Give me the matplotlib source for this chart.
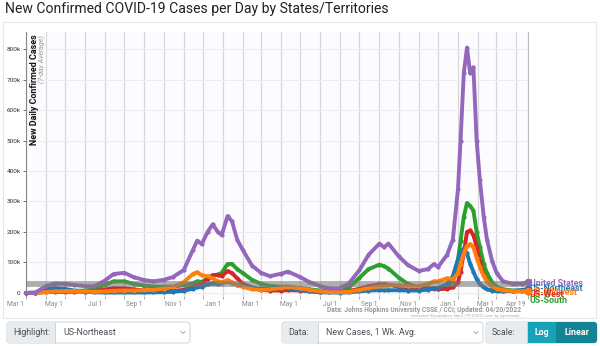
import numpy as np
import pandas as pd
import matplotlib
matplotlib.use("Agg")
import matplotlib.pyplot as plt
import matplotlib.dates as mdates
import matplotlib.transforms as mtransforms
from matplotlib.patches import Rectangle, FancyBboxPatch

plt.rcParams.update({
    "font.family": ["Roboto", "DejaVu Sans"],
    "figure.dpi": 100,
})

# ---- data (7-day average of new cases, thousands) ----
dates = [
    "2020-03-01", "2020-03-15", "2020-04-01", "2020-04-15", "2020-05-01", "2020-05-15",
    "2020-06-01", "2020-06-15", "2020-07-01", "2020-07-15", "2020-08-01", "2020-08-15",
    "2020-09-01", "2020-09-15", "2020-10-01", "2020-10-15", "2020-11-01", "2020-11-15",
    "2020-11-22", "2020-11-29", "2020-12-08", "2020-12-16", "2020-12-24", "2020-12-30",
    "2021-01-08", "2021-01-15", "2021-01-23", "2021-02-01", "2021-02-15", "2021-03-01",
    "2021-03-15", "2021-04-01", "2021-04-12", "2021-05-01", "2021-05-15", "2021-06-01",
    "2021-06-15", "2021-07-01", "2021-07-15", "2021-08-01", "2021-08-15", "2021-09-01",
    "2021-09-08", "2021-09-15", "2021-10-01", "2021-10-15", "2021-11-01", "2021-11-15",
    "2021-11-25", "2021-12-01", "2021-12-15", "2021-12-24", "2022-01-01", "2022-01-05",
    "2022-01-10", "2022-01-15", "2022-01-20", "2022-01-25", "2022-01-30", "2022-02-04",
    "2022-02-10", "2022-02-15", "2022-02-23", "2022-03-02", "2022-03-12", "2022-03-27",
    "2022-04-10", "2022-04-19",
]

united_states = [
    0, 1, 22, 31, 30, 26, 22, 22, 40, 62, 66, 52,
    42, 38, 43, 52, 75, 140, 172, 160, 200, 225, 200, 190,
    252, 235, 175, 140, 90, 66, 55, 63, 70, 52, 36, 22,
    15, 15, 30, 75, 125, 162, 150, 162, 120, 92, 72, 78,
    95, 85, 125, 175, 340, 500, 720, 805, 720, 740, 500, 370,
    250, 175, 105, 66, 38, 30, 30, 35,
]
us_northeast = [
    0, 0.5, 12, 16, 13, 8, 4, 2, 1.5, 1.5, 1.5, 1.5,
    1.5, 2, 2.5, 4, 7, 14, 19, 20, 28, 32, 30, 32,
    38, 33, 27, 22, 16, 14, 14, 16, 15, 9, 5, 2,
    1.5, 1, 2, 5, 8, 9, 9, 9, 9, 8, 8, 11,
    15, 16, 30, 55, 110, 135, 145, 130, 95, 70, 45, 30,
    18, 12, 8, 6, 5, 7, 10, 12,
]
us_south = [
    0, 0.3, 5, 7, 7, 7, 8, 12, 26, 38, 38, 30,
    24, 21, 20, 21, 25, 32, 38, 36, 48, 58, 60, 66,
    95, 95, 78, 65, 43, 30, 23, 20, 21, 16, 12, 8,
    6, 7, 17, 50, 78, 93, 88, 80, 50, 30, 18, 15,
    14, 14, 18, 40, 110, 170, 250, 295, 285, 270, 200, 150,
    95, 65, 35, 20, 12, 8, 7, 8,
]
us_west = [
    0, 0.3, 3, 3.5, 3.5, 4, 4.5, 6, 11, 16, 15, 12,
    8, 6, 6, 7, 10, 19, 27, 30, 45, 58, 60, 55,
    72, 65, 48, 30, 18, 10, 8, 8, 9, 8, 6, 4,
    3, 3, 6, 14, 22, 28, 28, 27, 20, 15, 12, 14,
    15, 12, 14, 18, 35, 70, 130, 200, 205, 190, 150, 100,
    60, 40, 20, 12, 7, 5, 6, 7,
]
us_midwest = [
    0, 0.3, 3, 5, 6, 6, 5, 4, 5, 7, 8, 8,
    9, 10, 14, 20, 35, 62, 68, 58, 55, 48, 38, 35,
    42, 35, 26, 20, 12, 10, 12, 16, 20, 15, 10, 5,
    3, 2.5, 4, 10, 16, 22, 22, 25, 25, 22, 22, 30,
    38, 38, 48, 45, 65, 95, 130, 155, 160, 150, 115, 85,
    55, 38, 22, 14, 9, 6, 5, 6,
]

series_names = ["US-South", "US-West", "US-Northeast", "US-Midwest", "United States"]
series_values = [us_south, us_west, us_northeast, us_midwest, united_states]
series_colors = ["#2ca02c", "#d62728", "#1f77b4", "#ff7f0e", "#9467bd"]

tick_labels = ["Mar 1", "May 1", "Jul 1", "Sep 1", "Nov 1", "Jan 1", "Mar 1",
               "May 1", "Jul 1", "Sep 1", "Nov 1", "Jan 1", "Mar 1", "Apr 19"]
tick_dates = ["2020-03-01", "2020-05-01", "2020-07-01", "2020-09-01", "2020-11-01",
              "2021-01-01", "2021-03-01", "2021-05-01", "2021-07-01", "2021-09-01",
              "2021-11-01", "2022-01-01", "2022-03-01", "2022-04-19"]

W, H = 600, 346
fig = plt.figure(figsize=(W / 100, H / 100), dpi=100)
fig.patch.set_facecolor("white")

# pixel-coordinate overlay for title / controls
ui = fig.add_axes([0, 0, 1, 1], zorder=-1)
ui.set_xlim(0, W)
ui.set_ylim(H, 0)
ui.axis("off")

# plot axes: left x=26, right x=527.5, top y=32, bottom y=296
ax = fig.add_axes([26 / W, 1 - 296 / H, (527.5 - 26) / W, (296 - 32) / H])
ax.set_facecolor("#fcfcfe")

x = pd.to_datetime(dates)
for name, vals, col, z in zip(series_names, series_values, series_colors, range(3, 8)):
    v = np.array(vals) * 1000
    ax.plot(x, v, color=col, lw=2.8, zorder=z, solid_joinstyle="round",
            marker="o", ms=2.0, mec=col, clip_on=False)
    ax.plot(x[-1], v[-1], "o", color=col, ms=4.5, zorder=z + 0.5, clip_on=False)

ax.axhline(31000, color="#7a7a7a", lw=4.2, alpha=0.6, zorder=9)

ax.set_xlim(pd.Timestamp("2020-03-01"), pd.Timestamp("2022-04-19"))
ax.set_ylim(-10000, 856000)

ax.set_yticks(np.arange(0, 800001, 100000))
ax.set_yticklabels(["0"] + [f"{i}00k" for i in range(1, 9)])
ax.set_xticks(pd.to_datetime(tick_dates))
ax.set_xticklabels(tick_labels)
ax.xaxis.set_minor_locator(mdates.MonthLocator())
ax.tick_params(axis="y", labelsize=4.6, length=2.5, width=0.6, color="#555",
               labelcolor="#333", pad=1.5)
ax.tick_params(axis="x", which="both", labelsize=4.8, length=2.5, width=0.6,
               color="#999", labelcolor="#888", pad=1)
offset = mtransforms.ScaledTranslation(-2 / 100, 0, fig.dpi_scale_trans)
for lab in ax.get_xticklabels():
    lab.set_horizontalalignment("right")
    lab.set_transform(lab.get_transform() + offset)

ax.grid(True, axis="y", color="#ececf3", lw=0.7)
ax.grid(True, axis="x", which="both", color="#d8d8dc", lw=0.9)
ax.set_axisbelow(True)
for side in ["top", "bottom"]:
    ax.spines[side].set_visible(False)
ax.spines["left"].set_color("#888")
ax.spines["left"].set_linewidth(0.8)
ax.spines["right"].set_color("#bbb")

# inner y-axis title
ax.text(0.007, 0.99, "New Daily Confirmed Cases", transform=ax.transAxes, rotation=90,
        ha="left", va="top", fontsize=6.4, fontweight="bold", color="#111")
ax.text(0.024, 0.99, "(7-day Average)", transform=ax.transAxes, rotation=90,
        ha="left", va="top", fontsize=5.0, style="italic", color="#999")

# end-of-line labels
end_labels = [("United States", 283, "#9467bd"), ("US-Northeast", 288.5, "#1f77b4"),
              ("US-Midwest", 292.5, "#ff7f0e"), ("US-West", 294.5, "#d62728"),
              ("US-South", 300.5, "#2ca02c")]
for text, yy, col in end_labels:
    ui.text(530, yy, text, color=col, fontsize=6.3, fontweight="bold", va="center",
            ha="left")

# title and container
ui.text(5, 9, "New Confirmed COVID-19 Cases per Day by States/Territories",
        fontsize=10.1, va="center", ha="left", color="#222")
ui.add_patch(Rectangle((3, 22), 593, 296, fill=False, ec="#e8e8ec", lw=0.8))

ui.text(521, 309.5, "Data: Johns Hopkins University CSSE / CCI; Updated: 04/20/2022",
        fontsize=4.8, color="#999", ha="right", va="center", fontweight="bold")
ui.text(521, 315.5, "Interactive Visualization: https://91-DIVOC.com/ by @profwade_",
        fontsize=2.8, color="#aaa", ha="right", va="center")


def control(x0, x1, xl, label, value):
    ui.add_patch(FancyBboxPatch((x0, 322), x1 - x0, 21, boxstyle="round,pad=0,rounding_size=3",
                                fc="white", ec="#ced4da", lw=0.7))
    ui.add_patch(Rectangle((x0 + 0.5, 322.5), xl - x0, 20, fc="#e9ecef", ec="none"))
    ui.plot([xl, xl], [322, 343], color="#ced4da", lw=0.7)
    ui.text(x0 + 6, 332.5, label, fontsize=6.4, color="#495057", va="center")
    if value:
        ui.text(xl + 8, 332.5, value, fontsize=6.4, color="#495057", va="center")
        ui.plot([x1 - 9, x1 - 7, x1 - 5], [331.5, 333.5, 331.5], color="#999", lw=0.6)


control(7, 190, 55, "Highlight:", "US-Northeast")
control(282, 483, 318, "Data:", "New Cases, 1 Wk. Avg.")
control(486, 597, 527, "Scale:", None)
ui.add_patch(Rectangle((527, 322), 29, 21, fc="#17a2b8", ec="none"))
ui.add_patch(FancyBboxPatch((556, 322), 41, 21, boxstyle="round,pad=0,rounding_size=3",
                            fc="#138496", ec="none"))
ui.add_patch(Rectangle((556, 322), 10, 21, fc="#138496", ec="none"))
ui.text(541.5, 332.5, "Log", fontsize=6.4, color="white", ha="center", va="center",
        fontweight="bold")
ui.text(576.5, 332.5, "Linear", fontsize=6.4, color="white", ha="center", va="center",
        fontweight="bold")

fig.savefig("out.png", dpi=100)
